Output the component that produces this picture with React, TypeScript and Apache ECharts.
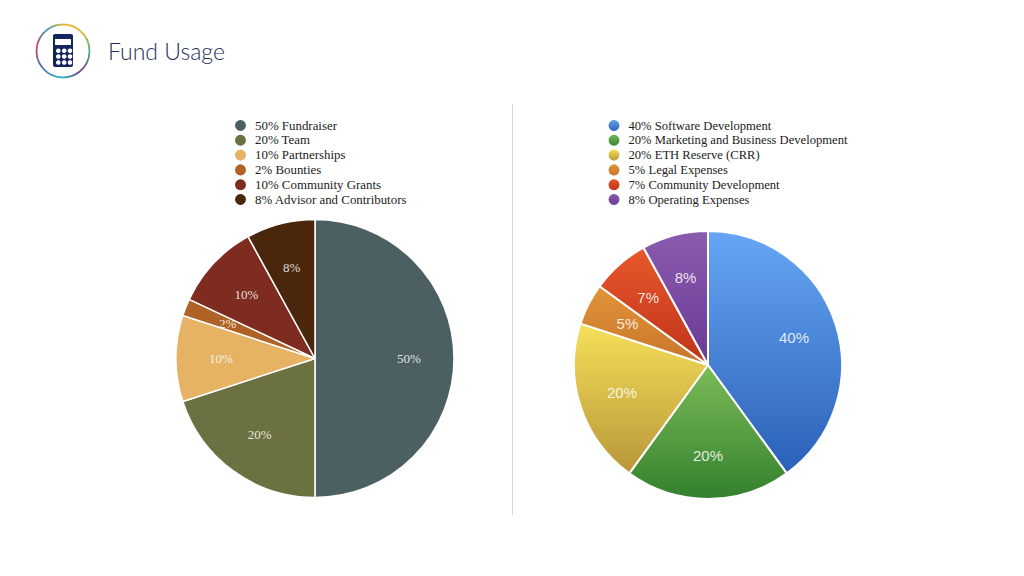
import React, { useEffect, useRef } from "react";
import * as echarts from "echarts";

const titleText = "Fund Usage";
const leftCategories = ["Fundraiser", "Team", "Partnerships", "Bounties", "Community Grants", "Advisor and Contributors"];
const leftValues = [50, 20, 10, 2, 10, 8];
const rightCategories = ["Software Development", "Marketing and Business Development", "ETH Reserve (CRR)", "Legal Expenses", "Community Development", "Operating Expenses"];
const rightValues = [40, 20, 20, 5, 7, 8];
const leftColors = ["#4c5f62", "#6b7140", "#e5b363", "#b06226", "#7e2b20", "#4a260c"];
const rightColorTops = ["#66a6f4", "#7cbc58", "#f6e058", "#e29438", "#e8582c", "#8a5cae"];
const rightColorBottoms = ["#2a60b8", "#34802f", "#b8963a", "#c8752a", "#bf3319", "#6a3a96"];

const grad = (a: string, b: string) =>
  new echarts.graphic.LinearGradient(0, 0, 0, 1, [
    { offset: 0, color: a },
    { offset: 1, color: b },
  ]);

const buildData = (names: string[], values: number[], colors: any[]) =>
  names.map((n, i) => ({
    name: `${values[i]}% ${n}`,
    value: values[i],
    itemStyle: { color: colors[i] },
  }));

const piePair = (data: any[], cx: number, cy: number, r: number, font: string, size: number, r0Ratio: number, border: number) => [
  {
    type: "pie",
    center: [cx, cy],
    radius: [0, r],
    startAngle: 90,
    silent: true,
    label: { show: false },
    labelLine: { show: false },
    itemStyle: { borderColor: "#ffffff", borderWidth: border },
    data,
  },
  {
    type: "pie",
    center: [cx, cy],
    radius: [r * r0Ratio, r],
    startAngle: 90,
    silent: true,
    avoidLabelOverlap: false,
    labelLine: { show: false },
    label: {
      show: true,
      position: "inside",
      formatter: "{c}%",
      color: "rgba(255,255,255,0.85)",
      fontFamily: font,
      fontSize: size,
    },
    itemStyle: { color: "transparent", borderWidth: 0 },
    data: data.map((d) => ({ name: d.name, value: d.value })),
  },
];

const legendOf = (data: any[], left: number, size: number) => ({
  show: true,
  orient: "vertical",
  left,
  top: 113,
  icon: "circle",
  itemWidth: 16,
  itemHeight: 13,
  itemGap: -0.2,
  selectedMode: false,
  textStyle: {
    fontFamily: "Liberation Serif",
    fontSize: size,
    color: "#222222",
    lineHeight: 13,
    padding: [0, 0, 0, 1.5],
  },
  data: data.map((d) => d.name),
});

const ringArc = (a0: number, a1: number, c0: string, c1: string) => {
  const rad = (d: number) => (d * Math.PI) / 180;
  const r = 26.5;
  const x0 = 63 + r * Math.cos(rad(a0));
  const y0 = 51 + r * Math.sin(rad(a0));
  const x1 = 63 + r * Math.cos(rad(a1));
  const y1 = 51 + r * Math.sin(rad(a1));
  return {
    type: "arc",
    shape: { cx: 63, cy: 51, r, startAngle: rad(a0), endAngle: rad(a1), clockwise: true },
    style: {
      fill: "none",
      lineWidth: 1.8,
      stroke: new echarts.graphic.LinearGradient(x0, y0, x1, y1, [
        { offset: 0, color: c0 },
        { offset: 1, color: c1 },
      ], true),
    },
  };
};

const buttonXs = [58.3, 64.2, 70];
const buttonYs = [50.7, 56.6, 62.4];

const icon = [
  ringArc(-130, -90, "#3f9dbb", "#e4b732"),
  ringArc(-90, -50, "#e4b732", "#e7b92f"),
  ringArc(-50, 0, "#e7b92f", "#4fb07a"),
  ringArc(0, 50, "#4fb07a", "#7a3a96"),
  ringArc(50, 90, "#7a3a96", "#39b6bf"),
  ringArc(90, 140, "#39b6bf", "#3d73bd"),
  ringArc(140, 190, "#3d73bd", "#d9405c"),
  ringArc(190, 230, "#d9405c", "#3f9dbb"),
  { type: "rect", shape: { x: 53, y: 34, width: 20, height: 33, r: 2 }, style: { fill: "#14245c" } },
  { type: "rect", shape: { x: 55, y: 39, width: 16, height: 6 }, style: { fill: "#ffffff" } },
  ...buttonYs.flatMap((y) =>
    buttonXs.map((x) => ({ type: "circle", shape: { cx: x, cy: y, r: 2.3 }, style: { fill: "#ffffff" } }))
  ),
];

export default function App() {
  const ref = useRef<HTMLDivElement>(null);
  useEffect(() => {
    document.body.style.margin = "0";
    const chart = echarts.init(ref.current!, null, { renderer: "svg" });
    const leftData = buildData(leftCategories, leftValues, leftColors);
    const rightData = buildData(
      rightCategories,
      rightValues,
      rightColorTops.map((c, i) => grad(c, rightColorBottoms[i]))
    );
    chart.setOption({
      animation: false,
      backgroundColor: "#ffffff",
      title: {
        text: titleText,
        left: 103,
        top: 34,
        textStyle: { fontFamily: "Lato", fontWeight: 300, fontSize: 23, color: "#1f2d5e" },
      },
      legend: [legendOf(leftData, 228, 12.9), legendOf(rightData, 601.5, 12.6)],
      series: [
        ...piePair(leftData, 315, 358.5, 139, "Liberation Serif", 13, 0.31, 1.5),
        ...piePair(rightData, 708, 365, 134, "Liberation Sans", 15, 0.305, 2),
      ],
      graphic: [
        ...icon,
        { type: "line", shape: { x1: 512.5, y1: 104, x2: 512.5, y2: 515 }, style: { stroke: "#d9d9d9", lineWidth: 1 } },
      ],
    });
    return () => chart.dispose();
  }, []);
  return <div ref={ref} style={{ position: "absolute", left: 0, top: 0, width: 1024, height: 576 }} />;
}
